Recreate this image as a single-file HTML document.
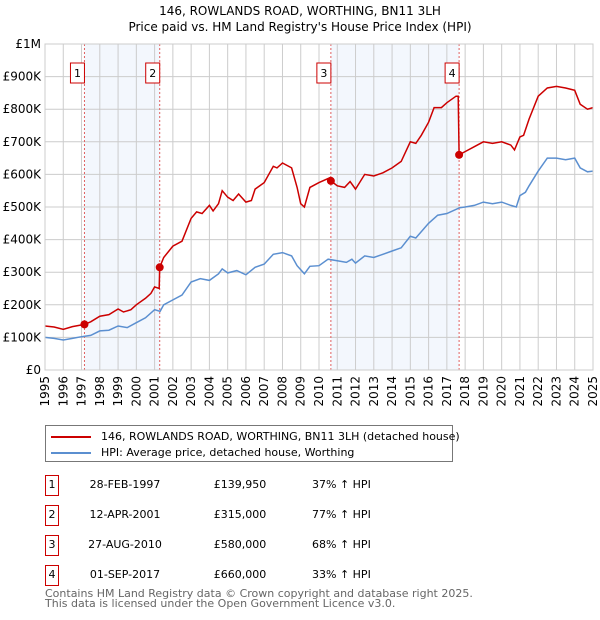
<!DOCTYPE html>
<html><head><meta charset="utf-8"><style>
body{margin:0;background:#fff;font-family:"DejaVu Sans","Liberation Sans",sans-serif;}
#wrap{position:relative;width:600px;height:620px;overflow:hidden;}
</style></head><body>
<div id="wrap">
<svg id="chart" width="600" height="420" style="position:absolute;left:0;top:0"></svg>
<div style="position:absolute;left:45px;top:425px;width:406px;height:35px;border:1px solid #777;font-size:11px;">
 <div style="position:absolute;left:5px;top:4px;white-space:nowrap"><span style="display:inline-block;width:40px;height:2px;background:#cc0000;vertical-align:middle;margin-right:10px"></span>146, ROWLANDS ROAD, WORTHING, BN11 3LH (detached house)</div>
 <div style="position:absolute;left:5px;top:20px;white-space:nowrap"><span style="display:inline-block;width:40px;height:2px;background:#5b8fd0;vertical-align:middle;margin-right:10px"></span>HPI: Average price, detached house, Worthing</div>
</div>
<div id="table"></div>
<div style="position:absolute;left:45px;top:589px;font-size:11px;color:#666;line-height:10px">Contains HM Land Registry data © Crown copyright and database right 2025.<br>This data is licensed under the Open Government Licence v3.0.</div>
</div>
<script>
const hpiX=[1995,1995.5,1996,1996.5,1997,1997.5,1998,1998.5,1999,1999.5,2000,2000.5,2001,2001.3,2001.5,2002,2002.5,2003,2003.5,2004,2004.5,2004.7,2005,2005.5,2006,2006.5,2007,2007.5,2008,2008.5,2008.8,2009.2,2009.5,2010,2010.5,2011,2011.5,2011.8,2012,2012.5,2013,2013.5,2014,2014.5,2015,2015.3,2016,2016.5,2017,2017.7,2018,2018.5,2019,2019.5,2020,2020.5,2020.8,2021,2021.3,2021.5,2022,2022.5,2023,2023.5,2024,2024.3,2024.7,2025];
const hpiY=[100,97,92,97,102,106,120,122,135,130,145,160,185,180,200,215,230,270,280,275,295,310,298,305,292,315,325,355,360,350,320,295,318,320,340,335,330,340,328,350,345,355,365,375,410,405,450,475,480,498,500,505,515,510,515,505,500,535,545,565,610,650,650,645,650,620,608,610];
const propX=[1995,1995.5,1996,1996.5,1997.16,1997.5,1998,1998.5,1999,1999.3,1999.7,2000,2000.5,2000.8,2001,2001.25,2001.28,2001.5,2002,2002.5,2003,2003.3,2003.6,2004,2004.2,2004.5,2004.7,2005,2005.3,2005.6,2006,2006.3,2006.5,2007,2007.5,2007.7,2008,2008.5,2008.8,2009,2009.2,2009.5,2010,2010.6,2010.65,2011,2011.4,2011.7,2012,2012.5,2013,2013.5,2014,2014.5,2015,2015.3,2015.6,2016,2016.3,2016.7,2017,2017.5,2017.62,2017.67,2018,2018.5,2019,2019.5,2020,2020.5,2020.7,2021,2021.2,2021.5,2022,2022.5,2023,2023.5,2024,2024.3,2024.7,2025];
const propY=[135,132,125,133,140,148,165,170,187,178,185,200,220,235,255,250,315,345,380,395,465,485,480,505,488,510,550,530,520,540,515,520,555,575,625,620,635,620,560,510,500,560,575,590,580,565,560,578,555,600,595,605,620,640,700,695,720,760,805,805,820,840,840,660,670,685,700,695,700,690,675,715,720,770,840,865,870,865,858,815,800,805];
const saleX=[1997.16,2001.28,2010.65,2017.67];
const saleY=[139.95,315,580,660];
const saleLabels=["1","2","3","4"];
const saleDates=["28-FEB-1997","12-APR-2001","27-AUG-2010","01-SEP-2017"];
const salePrices=["£139,950","£315,000","£580,000","£660,000"];
const saleHpi=["37% ↑ HPI","77% ↑ HPI","68% ↑ HPI","33% ↑ HPI"];
const yTicks=[0,100,200,300,400,500,600,700,800,900,1000];
const yTickLabels=["£0","£100K","£200K","£300K","£400K","£500K","£600K","£700K","£800K","£900K","£1M"];
const xTicks=[1995,1996,1997,1998,1999,2000,2001,2002,2003,2004,2005,2006,2007,2008,2009,2010,2011,2012,2013,2014,2015,2016,2017,2018,2019,2020,2021,2022,2023,2024,2025];

const X0=45,X1=593,Y0=370,Y1=44;
const sx=v=>X0+(v-1995)/(2025-1995)*(X1-X0);
const sy=v=>Y0-v/1000*(Y0-Y1);
const NS="http://www.w3.org/2000/svg";
const svg=document.getElementById('chart');
function mk(tag,attrs,parent){const e=document.createElementNS(NS,tag);for(const k in attrs)e.setAttribute(k,attrs[k]);(parent||svg).appendChild(e);return e;}

let t=mk('text',{x:300,y:15,'text-anchor':'middle','font-size':12,'font-family':'DejaVu Sans,Liberation Sans,sans-serif'});


t.textContent="146, ROWLANDS ROAD, WORTHING, BN11 3LH";
t=mk('text',{x:300,y:31,'text-anchor':'middle','font-size':12,'font-family':'DejaVu Sans,Liberation Sans,sans-serif'});


t.textContent="Price paid vs. HM Land Registry's House Price Index (HPI)";

for(let i=0;i<4;i+=2){
 const r=mk('rect',{x:sx(saleX[i]),y:Y1,width:sx(saleX[i+1])-sx(saleX[i]),height:Y0-Y1,fill:'#eef3fc',opacity:0.7});
 
 
}
yTicks.forEach((v,i)=>{
 const l=mk('line',{x1:X0,x2:X1,y1:sy(v),y2:sy(v),stroke:'#cccccc','stroke-width':1});
 
 
 const tx=mk('text',{x:X0-4,y:sy(v)+4,'text-anchor':'end','font-size':12,'font-family':'DejaVu Sans,Liberation Sans,sans-serif'});
 
 
 tx.textContent=yTickLabels[i];
});
xTicks.forEach(v=>{
 const l=mk('line',{x1:sx(v),x2:sx(v),y1:Y1,y2:Y0,stroke:'#cccccc','stroke-width':1});
 
 
 const px=sx(v)+4, py=Y0+6;
 const tx=mk('text',{x:px,y:py,'text-anchor':'end','font-size':12,'font-family':'DejaVu Sans,Liberation Sans,sans-serif',transform:'rotate(-90 '+px+' '+py+')'});
 
 
 tx.style.transformOrigin=px+'px '+py+'px';
 tx.style.transform='rotate(-90deg)';
 tx.textContent=v;
});
saleX.forEach(v=>{
 const l=mk('line',{x1:sx(v),x2:sx(v),y1:Y1,y2:Y0,stroke:'#e06060','stroke-width':1,'stroke-dasharray':'2,2'});
 
 
});
function path(xs,ys){return xs.map((x,i)=>(i?'L':'M')+sx(x).toFixed(1)+','+sy(ys[i]).toFixed(1)).join('');}
let p=mk('path',{d:path(hpiX,hpiY),fill:'none',stroke:'#5b8fd0','stroke-width':1.5});


p=mk('path',{d:path(propX,propY),fill:'none',stroke:'#cc0000','stroke-width':1.5});


saleX.forEach((v,i)=>{
 const c=mk('circle',{cx:sx(v),cy:sy(saleY[i]),r:4,fill:'#cc0000'});
 
 
 const bx=sx(v)-14;
 const b=mk('rect',{x:bx,y:63,width:14,height:20,fill:'#fff',stroke:'#cc0000','stroke-width':1});
 
 
 const tx=mk('text',{x:bx+7,y:77,'text-anchor':'middle','font-size':11,'font-family':'DejaVu Sans,Liberation Sans,sans-serif'});
 
 
 tx.textContent=saleLabels[i];
});
const ax=mk('rect',{x:X0,y:Y1,width:X1-X0,height:Y0-Y1,fill:'none',stroke:'#cccccc'});



const tb=document.getElementById('table');
saleLabels.forEach((s,i)=>{
 const top=475+i*30;
 const row=document.createElement('div');
 
 
 row.style.cssText=`position:absolute;left:0;top:${top}px;width:600px;height:22px;font-size:11px;`;
 row.innerHTML=`<div style="position:absolute;left:45px;top:0;width:12px;height:19px;border:1px solid #cc0000;text-align:center;line-height:18px">${s}</div>
<div style="position:absolute;left:70px;width:110px;text-align:center;line-height:20px">${saleDates[i]}</div>
<div style="position:absolute;left:205px;width:70px;text-align:center;line-height:20px">${salePrices[i]}</div>
<div style="position:absolute;left:312px;line-height:20px;white-space:nowrap">${saleHpi[i]}</div>`;
 tb.appendChild(row);
});
</script>
</body></html>
